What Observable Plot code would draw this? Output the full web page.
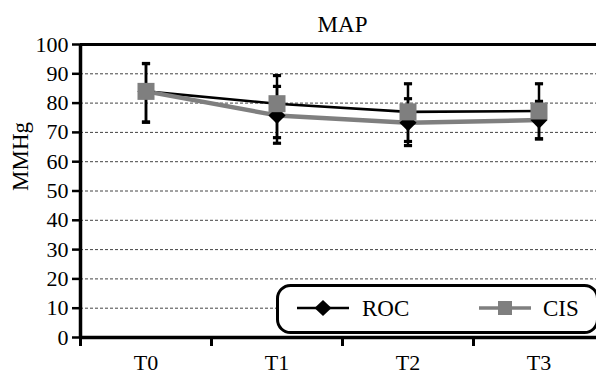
<!DOCTYPE html>
<html><head><meta charset="utf-8">
<script src="https://cdn.jsdelivr.net/npm/d3@7"></script>
<script src="https://cdn.jsdelivr.net/npm/@observablehq/plot@0.6"></script>
<style>
html,body{margin:0;padding:0;background:#fff;overflow:hidden;}
#wrap{position:relative;width:596px;height:374px;}
</style></head><body><div id="wrap"></div>
<script>
// ---- data ----
const title = "MAP";
const yLabel = "MMHg";
const categories = ["T0", "T1", "T2", "T3"];
const seriesNames = ["ROC", "CIS"];
const rocMean = [84, 75.8, 73.3, 74.2];
const rocLow  = [73.5, 66.3, 65.5, 67.8];
const rocHigh = [93.5, 85.7, 81.5, 80.6];
const cisMean = [84, 79.8, 77.0, 77.3];
const cisLow  = [73.5, 68.2, 66.9, 67.8];
const cisHigh = [93.5, 89.4, 86.6, 86.6];
const yTicks = [0, 10, 20, 30, 40, 50, 60, 70, 80, 90, 100];
const gridTicks = [10, 20, 30, 40, 50, 60, 70, 80, 90];

// ---- tables ----
const idx = categories.map((c, i) => i);
const roc = idx.map(i => ({i, mean: rocMean[i], lo: rocLow[i], hi: rocHigh[i]}));
const cis = idx.map(i => ({i, mean: cisMean[i], lo: cisLow[i], hi: cisHigh[i]}));
const bars = [...roc, ...cis];
const caps = bars.flatMap(d => [{i: d.i, v: d.lo}, {i: d.i, v: d.hi}]);
const boundaries = [-0.5, ...idx.slice(1).map(i => i - 0.5)];

const FONT = '"Liberation Serif", "Times New Roman", serif';
const GRAY = "#7f7f7f";
const capSymbol = {draw(ctx, size) { const w = Math.sqrt(size); ctx.moveTo(-w / 2, 0); ctx.lineTo(w / 2, 0); }};

const plot = Plot.plot({
  width: 596, height: 374,
  marginLeft: 80, marginTop: 44, marginBottom: 37, marginRight: -8,
  style: {fontFamily: FONT, fontSize: "22px", background: "white", color: "black"},
  x: {type: "linear", domain: [-0.5, categories.length - 0.5]},
  y: {domain: [0, 100]},
  marks: [
    Plot.ruleY(gridTicks, {stroke: "#444", strokeWidth: 1, strokeDasharray: "3,2"}),
    Plot.ruleX(bars, {x: "i", y1: "lo", y2: "hi", stroke: "black", strokeWidth: 2.5}),
    Plot.dot(caps, {x: "i", y: "v", symbol: capSymbol, r: 4.6, stroke: "black", strokeWidth: 3.2, fill: "none"}),
    Plot.line(cis, {x: "i", y: "mean", stroke: "black", strokeWidth: 2.6}),
    Plot.line(roc, {x: "i", y: "mean", stroke: GRAY, strokeWidth: 4.5}),
    Plot.dot(roc, {x: "i", y: "mean", symbol: "diamond2", r: 7.7, fill: "black", stroke: "none"}),
    Plot.dot(cis, {x: "i", y: "mean", symbol: "square", r: 9.6, fill: GRAY, stroke: "none"}),
    Plot.axisY({ticks: yTicks, tickSize: 8, tickPadding: 4, tickFormat: d => String(d), label: null, strokeWidth: 2.5, fontSize: 22, fontFamily: FONT}),
    Plot.axisX({ticks: idx, tickSize: 0, tickPadding: 17, tickFormat: i => categories[i], label: null, fontSize: 22, fontFamily: FONT}),
    Plot.axisX({ticks: boundaries, tickSize: 9, tickFormat: () => "", label: null, strokeWidth: 3}),
    Plot.ruleX([-0.5], {stroke: "black", strokeWidth: 3.5}),
    Plot.ruleY([0], {stroke: "black", strokeWidth: 3.5}),
    Plot.ruleY([100], {stroke: "black", strokeWidth: 3.2}),
    Plot.text([title], {frameAnchor: "top", dy: -29, fontSize: 23, fontFamily: FONT, fill: "black"}),
    Plot.text([yLabel], {frameAnchor: "left", dx: -60, rotate: -90, fontSize: 23, fontFamily: FONT, fill: "black"})
  ]
});

// ---- legend (decoration drawn into the same SVG) ----
const svg = d3.select(plot);
const lg = svg.append("g").attr("font-family", FONT).attr("font-size", 23).attr("text-anchor", "start");
lg.append("rect").attr("x", 277.5).attr("y", 285.5).attr("width", 320).attr("height", 47)
  .attr("rx", 13).attr("fill", "white").attr("stroke", "black").attr("stroke-width", 3);
const items = [
  {name: seriesNames[0], x0: 297, color: "black", shape: "diamond", tx: 362},
  {name: seriesNames[1], x0: 479, color: GRAY, shape: "square", tx: 543}
];
for (const it of items) {
  const cy = 308, cx = it.x0 + 26;
  lg.append("line").attr("x1", it.x0).attr("x2", it.x0 + 52).attr("y1", cy).attr("y2", cy)
    .attr("stroke", it.color).attr("stroke-width", it.shape === "square" ? 3.5 : 2.5);
  if (it.shape === "diamond") {
    lg.append("path").attr("d", `M${cx},${cy - 8}L${cx + 8.5},${cy}L${cx},${cy + 8}L${cx - 8.5},${cy}Z`).attr("fill", "black");
  } else {
    lg.append("rect").attr("x", cx - 7).attr("y", cy - 7).attr("width", 14).attr("height", 14).attr("fill", GRAY);
  }
  lg.append("text").attr("x", it.tx).attr("y", 316).attr("text-anchor", "start").attr("fill", "black").text(it.name);
}

document.getElementById("wrap").appendChild(plot);
</script></body></html>
